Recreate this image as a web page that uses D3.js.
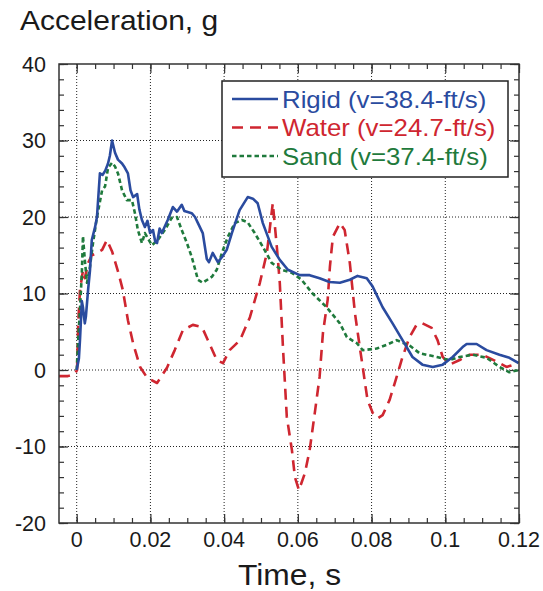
<!DOCTYPE html>
<html>
<head>
<meta charset="utf-8">
<script src="https://cdn.jsdelivr.net/npm/d3@7/dist/d3.min.js"></script>
<style>
  html, body { margin: 0; padding: 0; background: #fff; }
  svg text { font-family: "Liberation Sans", Arial, Helvetica, sans-serif; fill: #1a1a1a; }
</style>
</head>
<body>
<svg id="chart" width="543" height="591"></svg>
<script>
// Drop-test acceleration traces: time (s) and acceleration (g)
const rigidTime = [0, 0.0006, 0.0009, 0.0014, 0.0017, 0.0022, 0.0025, 0.0031, 0.0036, 0.0041, 0.0050, 0.0055, 0.0063, 0.0070, 0.0077, 0.0085, 0.0090, 0.0096, 0.0104, 0.0112, 0.0123, 0.0130, 0.0139, 0.0146, 0.0153, 0.0164, 0.0170, 0.0177, 0.0185, 0.0192, 0.0199, 0.0207, 0.0213, 0.0218, 0.0225, 0.0231, 0.0247, 0.0261, 0.0272, 0.0285, 0.0292, 0.0299, 0.0312, 0.0321, 0.0329, 0.0342, 0.0353, 0.0359, 0.0369, 0.0383, 0.0395, 0.0407, 0.0421, 0.0442, 0.0464, 0.0478, 0.0491, 0.0505, 0.0529, 0.0551, 0.0573, 0.0605, 0.0632, 0.0659, 0.0686, 0.0714, 0.0741, 0.0762, 0.0787, 0.0803, 0.0830, 0.0857, 0.0884, 0.0911, 0.0938, 0.0966, 0.0993, 0.1020, 0.1047, 0.1058, 0.1085, 0.1112, 0.1147, 0.1174, 0.1199];
const rigidAccel = [0, 1.5, 4, 9, 8.2, 6.1, 7, 10.5, 13, 17, 18.7, 20, 25.7, 25.5, 26, 27, 28, 30, 28.4, 27.5, 27, 26.5, 25.7, 23.5, 22.6, 23, 21, 19.6, 18.7, 19.5, 17.9, 18.3, 16.8, 16.6, 18.5, 17.9, 19.6, 21.3, 20.7, 21.6, 20.8, 20.7, 20.5, 20, 19.2, 17.9, 14.5, 14.1, 15.3, 14.1, 14.8, 15.7, 17.9, 20.9, 22.6, 22.4, 21.8, 19.2, 16.1, 14.4, 13.1, 12.4, 12.4, 12, 11.5, 11.4, 11.8, 12.3, 12, 10.9, 8.2, 6.1, 3.9, 1.7, 0.7, 0.4, 0.7, 1.7, 3, 3.4, 3.4, 2.6, 2, 1.6, 0.9];

const waterTime = [-0.0048, -0.0024, -0.0005, 0.0001, 0.0004, 0.0009, 0.0017, 0.0022, 0.0031, 0.0041, 0.0055, 0.0069, 0.0082, 0.0096, 0.0112, 0.0125, 0.0139, 0.0153, 0.0172, 0.0191, 0.0218, 0.0245, 0.0266, 0.0288, 0.0315, 0.0340, 0.0356, 0.0380, 0.0397, 0.0415, 0.0443, 0.0470, 0.0497, 0.0516, 0.0532, 0.0543, 0.0551, 0.0560, 0.0570, 0.0584, 0.0592, 0.0603, 0.0619, 0.0632, 0.0646, 0.0659, 0.0668, 0.0681, 0.0687, 0.0695, 0.0714, 0.0727, 0.0741, 0.0755, 0.0768, 0.0776, 0.0781, 0.0789, 0.0803, 0.0817, 0.0830, 0.0849, 0.0868, 0.0884, 0.0903, 0.0922, 0.0938, 0.0963, 0.0979, 0.0993, 0.1012, 0.1039, 0.1066, 0.1101, 0.1139, 0.1166, 0.1193];
const waterAccel = [-0.8, -0.8, -0.5, 0, 6, 10.5, 13, 12, 14, 15, 15.3, 15.7, 17, 15.5, 12.9, 10.5, 6.5, 3.5, 0.4, -1, -1.7, 0.3, 2.6, 5.2, 5.9, 5.6, 3.9, 1.3, 0.9, 2.6, 3.9, 6.9, 11.4, 15.3, 21.8, 16.1, 11.4, 2.6, -6.1, -10.5, -14, -15.7, -13.5, -10.5, -5.6, -0.9, 4.8, 9.2, 13.5, 17.4, 19.2, 18.3, 14, 7.4, 3, 0.4, -1.3, -3.9, -5.6, -6.3, -5.9, -3.9, -0.9, 1.7, 4.3, 5.9, 6.1, 5.5, 3.9, 1.7, 0.7, 1.3, 2, 2, 1.1, 0.4, 0.8];

const sandTime = [0, 0.0004, 0.0009, 0.0014, 0.0017, 0.0022, 0.0028, 0.0036, 0.0044, 0.0055, 0.0069, 0.0077, 0.0085, 0.0096, 0.0104, 0.0112, 0.0123, 0.0136, 0.0150, 0.0158, 0.0166, 0.0177, 0.0185, 0.0204, 0.0220, 0.0239, 0.0258, 0.0272, 0.0285, 0.0299, 0.0312, 0.0329, 0.0342, 0.0367, 0.0380, 0.0394, 0.0410, 0.0429, 0.0448, 0.0464, 0.0483, 0.0505, 0.0529, 0.0556, 0.0584, 0.0610, 0.0640, 0.0678, 0.0714, 0.0733, 0.0760, 0.0776, 0.0814, 0.0841, 0.0868, 0.0903, 0.0930, 0.0977, 0.1012, 0.1039, 0.1074, 0.1112, 0.1147, 0.1174, 0.1199];
const sandAccel = [0, 3.9, 8, 12.7, 17.5, 14.4, 11.4, 13.5, 16.5, 20, 23.5, 24, 26.4, 27.1, 26.6, 25.7, 23.5, 22.2, 22.2, 20.5, 18.3, 16.6, 17.9, 16.3, 17, 18.3, 19.9, 20, 18.3, 16.6, 14.8, 11.8, 11.4, 12.2, 13.1, 15.3, 17.4, 19.2, 19.6, 19.3, 17.9, 16.1, 14, 13.1, 12.7, 11.8, 10, 8.2, 6.1, 4.3, 3.5, 2.6, 2.8, 3.3, 3.9, 3.2, 2.2, 1.7, 1.3, 1.7, 2, 1.6, 0.4, -0.3, 0];

const seriesNames = ["Rigid (v=38.4-ft/s)", "Water (v=24.7-ft/s)", "Sand (v=37.4-ft/s)"];
const xTickValues = [0, 0.02, 0.04, 0.06, 0.08, 0.1, 0.12];
const xTickLabels = ["0", "0.02", "0.04", "0.06", "0.08", "0.1", "0.12"];
const yTickValues = [-20, -10, 0, 10, 20, 30, 40];
const yTickLabels = ["-20", "-10", "0", "10", "20", "30", "40"];

const series = [
  { name: seriesNames[0], t: rigidTime, a: rigidAccel, color: "#2a4b9f", dash: null },
  { name: seriesNames[1], t: waterTime, a: waterAccel, color: "#cf2630", dash: "11,7" },
  { name: seriesNames[2], t: sandTime, a: sandAccel, color: "#1f7a3c", dash: "4.5,3" }
];

const svg = d3.select("#chart");
const plotLeft = 59, plotRight = 519, plotTop = 64, plotBottom = 523;

const x = d3.scaleLinear().domain([-0.0048, 0.12]).range([plotLeft, plotRight]);
const y = d3.scaleLinear().domain([-20, 40]).range([plotBottom, plotTop]);

// widen a text element horizontally by a factor, keeping glyphs as real text
function widen(sel, factor) {
  sel.each(function () {
    const w = this.getComputedTextLength();
    d3.select(this).attr("textLength", w * factor).attr("lengthAdjust", "spacingAndGlyphs");
  });
}

// dotted grid at major ticks
const grid = svg.append("g").attr("stroke", "#222").attr("stroke-width", 1).attr("stroke-dasharray", "1,2");
grid.selectAll("line.vx").data(xTickValues.filter(v => v < 0.12)).join("line")
  .attr("x1", d => x(d)).attr("x2", d => x(d)).attr("y1", plotTop).attr("y2", plotBottom);
grid.selectAll("line.hy").data(yTickValues.filter(v => v > -20 && v < 40)).join("line")
  .attr("x1", plotLeft).attr("x2", plotRight).attr("y1", d => y(d)).attr("y2", d => y(d));

// inward ticks on all four sides
const xMinor = d3.range(0, 0.1201, 0.005);
const yMinor = d3.range(-20, 40.01, 2);
function tickAxis(axisGen, transform) {
  const g = svg.append("g").attr("transform", transform).call(axisGen);
  g.select(".domain").remove();
  g.selectAll("text").remove();
  g.selectAll("line").attr("stroke", "#333").attr("stroke-width", 1.2);
  return g;
}
tickAxis(d3.axisBottom(x).tickValues(xMinor).tickSize(-5), `translate(0,${plotBottom})`);
tickAxis(d3.axisBottom(x).tickValues(xTickValues).tickSize(-9), `translate(0,${plotBottom})`);
tickAxis(d3.axisTop(x).tickValues(xMinor).tickSize(-5), `translate(0,${plotTop})`);
tickAxis(d3.axisTop(x).tickValues(xTickValues).tickSize(-9), `translate(0,${plotTop})`);
tickAxis(d3.axisLeft(y).tickValues(yMinor).tickSize(-5), `translate(${plotLeft},0)`);
tickAxis(d3.axisLeft(y).tickValues(yTickValues).tickSize(-9), `translate(${plotLeft},0)`);
tickAxis(d3.axisRight(y).tickValues(yMinor).tickSize(-5), `translate(${plotRight},0)`);
tickAxis(d3.axisRight(y).tickValues(yTickValues).tickSize(-9), `translate(${plotRight},0)`);

// tick labels
svg.append("g").selectAll("text").data(xTickValues).join("text")
  .attr("x", d => x(d)).attr("y", 547).attr("text-anchor", "middle")
  .attr("font-size", 21.5).text((d, i) => xTickLabels[i]);
svg.append("g").selectAll("text").data(yTickValues).join("text")
  .attr("x", 46).attr("y", d => y(d) + 7.5).attr("text-anchor", "end")
  .attr("font-size", 21.5).text((d, i) => yTickLabels[i]);

// traces
svg.append("clipPath").attr("id", "plotclip").append("rect")
  .attr("x", plotLeft).attr("y", plotTop).attr("width", plotRight - plotLeft).attr("height", plotBottom - plotTop);
const line = d3.line().x(d => x(d[0])).y(d => y(d[1]));
const traces = svg.append("g").attr("clip-path", "url(#plotclip)");
[series[1], series[2], series[0]].forEach(s => {
  traces.append("path")
    .datum(s.t.map((t, i) => [t, s.a[i]]))
    .attr("d", line)
    .attr("fill", "none")
    .attr("stroke", s.color)
    .attr("stroke-width", 2.6)
    .attr("stroke-linejoin", "round")
    .attr("stroke-dasharray", s.dash);
});

// frame
svg.append("rect").attr("x", plotLeft).attr("y", plotTop).attr("width", plotRight - plotLeft).attr("height", plotBottom - plotTop)
  .attr("fill", "none").attr("stroke", "#333").attr("stroke-width", 1.5);

// legend
const lg = svg.append("g");
lg.append("rect").attr("x", 222).attr("y", 81).attr("width", 286).attr("height", 96)
  .attr("fill", "#fff").attr("stroke", "#222").attr("stroke-width", 1.5);
series.forEach((s, i) => {
  const cy = 99 + i * 28.5;
  lg.append("line").attr("x1", 232).attr("x2", 278).attr("y1", cy).attr("y2", cy)
    .attr("stroke", s.color).attr("stroke-width", 2.6).attr("stroke-dasharray", s.dash);
  lg.append("text").attr("x", 282).attr("y", cy + 8.5).attr("font-size", 24)
    .style("fill", s.color).text(s.name).call(widen, 1.075);
});

// axis titles
svg.append("text").attr("x", 20).attr("y", 30).attr("font-size", 28)
  .text("Acceleration, g").call(widen, 1.07);
svg.append("text").attr("x", 238).attr("y", 585).attr("font-size", 30)
  .text("Time, s").call(widen, 1.06);
</script>
</body>
</html>
